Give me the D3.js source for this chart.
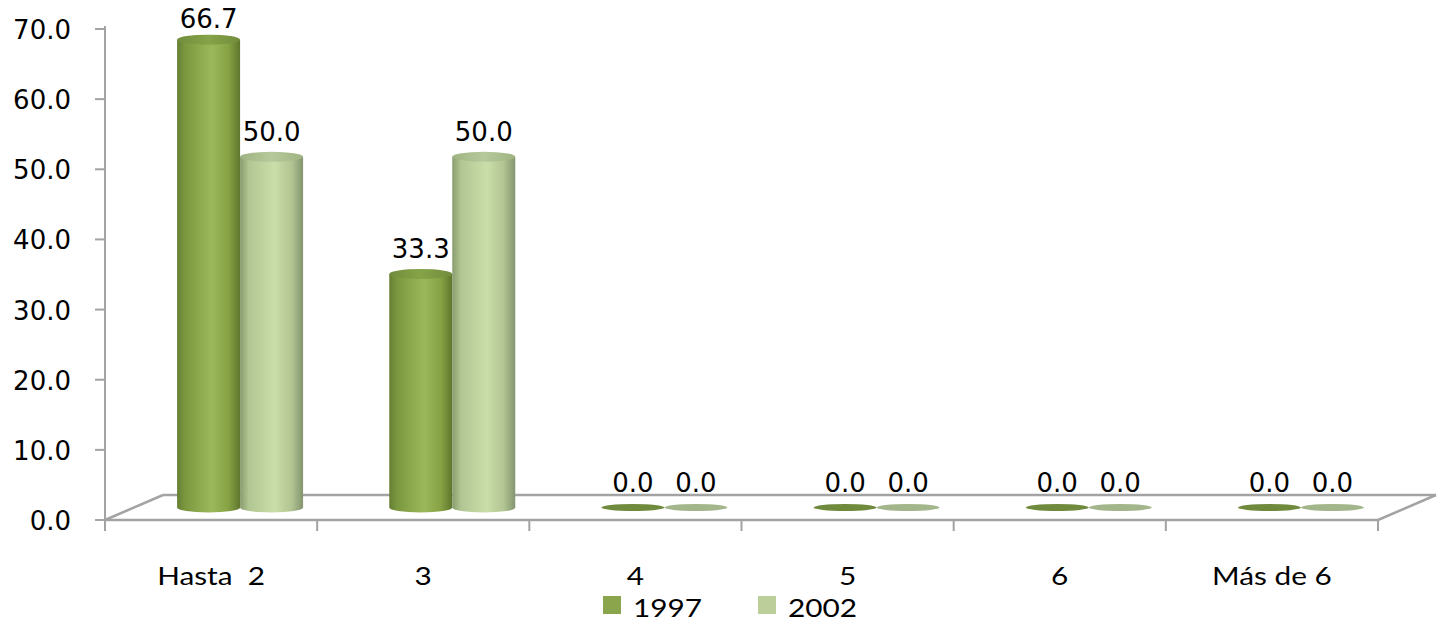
<!DOCTYPE html>
<html><head><meta charset="utf-8">
<script src="https://cdn.jsdelivr.net/npm/d3@7"></script>
<style>html,body{margin:0;padding:0;background:#fff;}svg{display:block;}</style>
</head><body>
<svg id="c" width="1445" height="624"></svg>
<script>
const categories = ["Hasta  2", "3", "4", "5", "6", "Más de 6"];
const seriesNames = ["1997", "2002"];
const values1997 = [66.7, 33.3, 0.0, 0.0, 0.0, 0.0];
const values2002 = [50.0, 50.0, 0.0, 0.0, 0.0, 0.0];
const yTicks = [0, 10, 20, 30, 40, 50, 60, 70];

const svg = d3.select("#c");
const x0 = 105, x1 = 1378;
const depthX = 58, depthY = -25;
const y = d3.scaleLinear().domain([0, 70]).range([520, 29]);
const x = d3.scaleBand().domain(categories).range([x0, x1]).padding(0);
const xs = d3.scaleBand().domain(seriesNames).range([-63, 63]).padding(0);
const axisCol = "#a3a3a3";

const defs = svg.append("defs");
function grad(id, stops) {
  const g = defs.append("linearGradient").attr("id", id).attr("x1", "0%").attr("x2", "100%").attr("y1", "0%").attr("y2", "0%");
  stops.forEach(s => g.append("stop").attr("offset", s[0]).attr("stop-color", s[1]));
}
grad("g1997", [["0%", "#667f33"], ["12%", "#7a973f"], ["55%", "#9bb95a"], ["82%", "#86a244"], ["100%", "#5d752c"]]);
grad("g2002", [["0%", "#899c6e"], ["14%", "#b2c693"], ["55%", "#cadea9"], ["82%", "#b1c491"], ["100%", "#849570"]]);
grad("t1997", [["0%", "#718d3c"], ["50%", "#86a348"], ["100%", "#718d3c"]]);
grad("t2002", [["0%", "#a0b383"], ["50%", "#b6c99a"], ["100%", "#a0b383"]]);
const topFlat = {"1997": "#6f8a3c", "2002": "#a3b58a"};
const legendCol = {"1997": "#8aa54b", "2002": "#bccf9a"};

// Floor
const floor = svg.append("g").attr("fill", "none").attr("stroke", axisCol).attr("stroke-width", 2.5);
floor.append("line").attr("x1", x0).attr("y1", y(0)).attr("x2", x1).attr("y2", y(0));
floor.append("line").attr("x1", x0 + depthX).attr("y1", y(0) + depthY).attr("x2", x1 + depthX).attr("y2", y(0) + depthY);
floor.append("line").attr("x1", x0).attr("y1", y(0)).attr("x2", x0 + depthX).attr("y2", y(0) + depthY);
floor.append("line").attr("x1", x1).attr("y1", y(0)).attr("x2", x1 + depthX).attr("y2", y(0) + depthY);

// Category ticks
const catTicks = d3.range(categories.length + 1).map(i => x0 + i * x.bandwidth());
svg.append("g").selectAll("line").data(catTicks).join("line")
  .attr("x1", d => d).attr("x2", d => d).attr("y1", y(0)).attr("y2", y(0) + 11)
  .attr("stroke", axisCol).attr("stroke-width", 2);

// Y axis
const yAxisG = svg.append("g");
yAxisG.append("line").attr("x1", x0).attr("x2", x0).attr("y1", y(70) - 3).attr("y2", y(0)).attr("stroke", axisCol).attr("stroke-width", 2);
yAxisG.selectAll("line.t").data(yTicks).join("line").attr("class", "t")
  .attr("x1", x0 - 10).attr("x2", x0).attr("y1", d => y(d)).attr("y2", d => y(d))
  .attr("stroke", axisCol).attr("stroke-width", 2);
yAxisG.selectAll("text").data(yTicks).join("text")
  .attr("x", 71).attr("y", d => y(d) + 10).attr("text-anchor", "end")
  .attr("font-family", "DejaVu Sans").attr("font-size", 26).attr("fill", "#000")
  .text(d => d.toFixed(1));

// Cylinders
const rx = xs.bandwidth() / 2, ry = 5;
const data = [];
categories.forEach((c, i) => {
  [["1997", values1997[i]], ["2002", values2002[i]]].forEach(([s, v]) => data.push({c, s, v}));
});
const barsG = svg.append("g");
data.forEach(d => {
  const cx = x(d.c) + x.bandwidth() / 2 + depthX / 2 + xs(d.s) + rx;
  const yb = y(0) + depthY / 2;
  const yt = y(d.v) + depthY / 2;
  d.cx = cx; d.yt = yt;
  if (d.v > 0) {
    const p = `M${cx - rx},${yt} L${cx - rx},${yb} A${rx},${ry} 0 0 0 ${cx + rx},${yb} L${cx + rx},${yt} Z`;
    barsG.append("path").attr("d", p).attr("fill", `url(#g${d.s})`);
    barsG.append("ellipse").attr("cx", cx).attr("cy", yt).attr("rx", rx).attr("ry", ry).attr("fill", `url(#t${d.s})`);
  } else {
    barsG.append("ellipse").attr("cx", cx).attr("cy", yb).attr("rx", rx).attr("ry", ry - 1.5).attr("fill", topFlat[d.s]);
  }
});

// Value labels (kept inside the chart area)
svg.append("g").selectAll("text").data(data).join("text")
  .attr("x", d => d.cx).attr("y", d => Math.max(28, d.yt - 16)).attr("text-anchor", "middle")
  .attr("font-family", "DejaVu Sans").attr("font-size", 26).attr("fill", "#000")
  .text(d => d.v.toFixed(1));

// Stretched text helper (Calibri-like)
function stretchText(g, txt, tx, ty, anchor, sx) {
  return g.append("text").attr("transform", `translate(${tx},${ty}) scale(${sx},1)`)
    .attr("text-anchor", anchor).attr("font-family", "Lato").attr("font-size", 25).attr("fill", "#000")
    .attr("xml:space", "preserve").style("white-space", "pre").text(txt);
}
const catG = svg.append("g");
categories.forEach(c => stretchText(catG, c, x(c) + x.bandwidth() / 2, 585, "middle", 1.19));

// Legend
const legG = svg.append("g");
const legX = [603, 758];
seriesNames.forEach((s, i) => {
  legG.append("rect").attr("x", legX[i]).attr("y", 596).attr("width", 18).attr("height", 18).attr("fill", legendCol[s]);
  stretchText(legG, s, legX[i] + 30, 617, "start", 1.19);
});
</script>
</body></html>
